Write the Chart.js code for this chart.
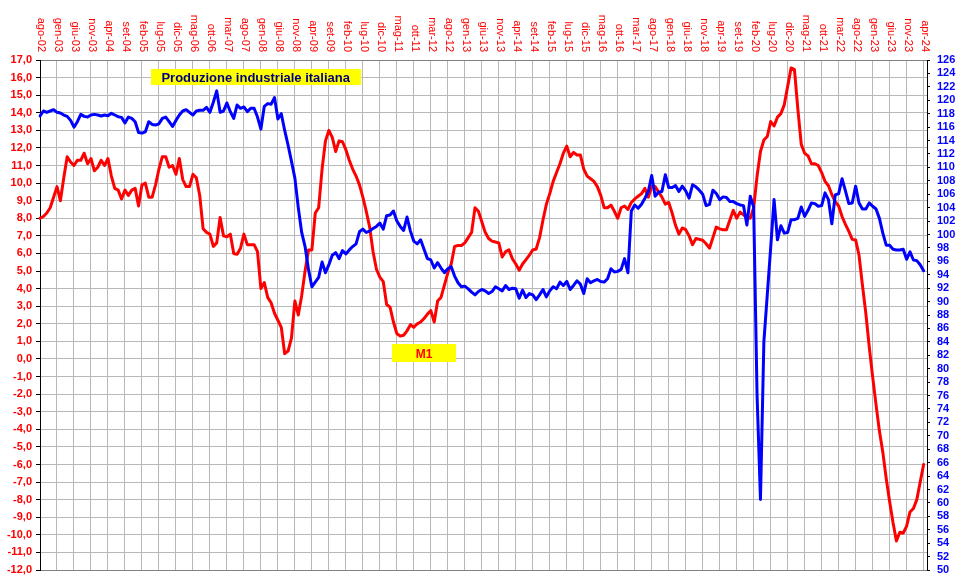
<!DOCTYPE html>
<html><head><meta charset="utf-8">
<script src="https://cdn.jsdelivr.net/npm/chart.js@4.4.0/dist/chart.umd.min.js"></script>
<style>html,body{margin:0;padding:0;background:#fff;}canvas{display:block;}</style>
</head><body>
<canvas id="c" width="966" height="588"></canvas>
<script>
// ---- categories (monthly, ago-02 .. mag-24) ----
const monthNames = ['gen','feb','mar','apr','mag','giu','lug','ago','set','ott','nov','dic'];
const firstYear = 2002, firstMonthIdx = 7, monthCount = 262;
const categories = [];
for (let k = 0; k < monthCount; k++) {
  const m = (firstMonthIdx + k) % 12;
  const y = firstYear + Math.floor((firstMonthIdx + k) / 12);
  categories.push(monthNames[m] + '-' + String(y % 100).padStart(2, '0'));
}
const labelEvery = 5;

// ---- M1 growth (%, left axis) ----
const m1Growth = [8.0,8.1,8.3,8.6,9.2,9.8,9.0,10.3,11.5,11.2,
11.0,11.3,11.3,11.7,11.1,11.4,10.7,10.9,11.3,11.0,
11.4,10.4,9.7,9.6,9.1,9.6,9.3,9.6,9.7,8.7,
9.9,10.0,9.2,9.2,9.9,10.8,11.5,11.5,10.9,11.0,
10.5,11.4,10.2,9.8,9.8,10.5,10.3,9.3,7.4,7.2,
7.1,6.4,6.6,8.05,7.0,6.95,7.1,6.0,5.95,6.3,
7.1,6.5,6.5,6.5,6.1,4.0,4.35,3.5,3.2,2.6,
2.2,1.8,0.3,0.45,1.2,3.3,2.5,3.6,5.0,6.2,
6.2,8.3,8.6,10.8,12.4,13.0,12.6,11.8,12.4,12.35,
11.9,11.3,10.8,10.4,9.9,9.2,8.4,7.5,6.1,5.1,
4.65,4.4,3.1,2.95,2.1,1.45,1.3,1.35,1.6,1.95,
1.8,2.0,2.1,2.3,2.55,2.75,2.1,3.3,3.5,4.2,
4.9,5.4,6.4,6.45,6.45,6.6,6.9,7.2,8.6,8.4,
7.8,7.2,6.85,6.7,6.65,6.6,5.8,6.1,6.2,5.7,
5.4,5.05,5.4,5.65,5.9,6.2,6.25,6.9,7.9,8.8,
9.4,10.1,10.6,11.1,11.7,12.1,11.5,11.75,11.6,11.6,
10.8,10.4,10.25,10.1,9.8,9.3,8.6,8.6,8.75,8.4,
8.0,8.6,8.7,8.5,8.9,9.1,9.25,9.4,9.7,9.2,
9.8,9.8,9.5,9.2,8.8,8.9,8.3,7.6,7.1,7.45,
7.35,7.0,6.5,6.85,6.8,6.75,6.55,6.3,6.9,7.5,
7.4,7.35,7.35,7.9,8.45,8.0,8.35,8.2,8.05,8.0,
8.6,10.4,11.8,12.45,12.65,13.5,13.25,13.75,13.95,14.45,
15.5,16.55,16.45,14.2,12.2,11.7,11.55,11.1,11.1,11.0,
10.6,10.1,9.85,9.35,8.95,8.7,8.1,7.65,7.25,6.8,
6.77,5.9,4.2,2.6,0.7,-1.0,-2.6,-4.1,-5.3,-6.8,
-8.1,-9.3,-10.35,-9.85,-9.9,-9.5,-8.7,-8.5,-8.0,-7.0,
-6.0];

// ---- Produzione industriale italiana (index, right axis) ----
const industrialProduction = [117.65,118.4,118.2,118.4,118.6,118.2,118.1,117.8,117.6,117.0,
116.0,116.8,117.9,117.6,117.5,117.8,117.9,117.8,117.65,117.8,
117.7,118.05,117.8,117.55,117.45,116.6,117.5,117.3,116.8,115.2,
115.1,115.3,116.8,116.4,116.3,116.5,117.3,117.5,116.8,116.1,
117.0,117.8,118.4,118.6,118.2,117.8,118.4,118.5,118.5,118.95,
118.2,119.7,121.4,118.2,118.4,119.6,118.3,117.3,119.3,118.8,
119.0,118.3,118.8,118.8,117.5,115.7,119.1,119.5,119.4,120.4,
117.2,118.0,115.5,113.3,110.9,108.4,104.0,100.3,98.2,94.8,
92.2,92.9,93.6,95.9,94.3,95.5,96.9,97.3,96.4,97.6,
97.1,97.7,98.2,98.6,100.4,100.8,100.3,100.5,100.9,101.2,
101.7,100.8,102.8,102.9,103.5,102.0,101.2,100.6,102.6,100.5,
99.0,98.6,99.2,97.8,96.4,96.2,95.0,95.8,95.0,94.3,
94.9,95.2,93.8,92.8,92.2,92.3,91.9,91.4,91.0,91.5,
91.8,91.6,91.2,91.5,92.2,91.9,91.6,92.4,91.8,92.0,
91.9,90.5,91.7,90.6,91.2,91.0,90.3,91.0,91.8,90.7,
91.6,92.2,91.9,92.9,92.4,93.0,91.8,92.4,93.1,92.6,
91.2,93.4,92.8,93.1,93.3,93.0,92.9,93.4,94.9,94.4,
94.5,94.8,96.4,94.3,103.5,104.4,103.9,104.5,105.4,106.4,
108.8,105.7,106.3,106.4,108.9,107.0,107.0,107.3,106.4,107.2,
106.5,105.4,107.4,107.1,106.6,106.0,104.3,104.5,106.6,106.1,
105.2,105.6,105.5,104.9,104.9,104.6,104.4,104.3,101.4,105.7,
104.1,76.0,60.5,84.0,91.0,98.0,105.2,99.2,101.3,100.2,
100.3,102.2,102.2,102.4,104.1,102.7,103.6,104.7,104.6,104.2,
104.3,106.2,105.2,101.6,105.9,106.1,108.3,106.5,104.6,104.7,
107.2,104.7,103.8,103.8,104.7,104.2,103.8,102.4,100.2,98.4,
98.4,97.8,97.7,97.7,97.8,96.3,97.4,96.2,96.1,95.5,
94.6];

// ---- axis ranges ----
const leftAxis = {min: -12, max: 17, step: 1};
const rightAxis = {min: 50, max: 126, step: 2};

const FONT = '"Liberation Sans", Arial, Helvetica, sans-serif';

// text boxes (anchored in data coordinates: category index, left-axis value)
const notes = [
  {text: 'Produzione industriale italiana', idx: 63.47, val: 16.03, w: 210, h: 16, color: '#000080', font: 'bold 13px ' + FONT},
  {text: 'M1', idx: 113.05, val: 0.32, w: 64, h: 18, color: '#ff0000', font: 'bold 12px ' + FONT}
];

const topLabelsPlugin = {
  id: 'topLabels',
  afterDraw(chart) {
    const xs = chart.scales.x, ctx = chart.ctx, top = chart.chartArea.top;
    ctx.save();
    ctx.font = '11px ' + FONT;
    ctx.fillStyle = '#ff0000';
    ctx.textAlign = 'right';
    ctx.textBaseline = 'middle';
    categories.forEach((lab, i) => {
      if (i % labelEvery !== 0) return;
      const x = xs.getPixelForValue(i);
      ctx.save();
      ctx.translate(x + 1.5, top - 8);
      ctx.rotate(Math.PI / 2);
      ctx.fillText(lab, 0, 0);
      ctx.restore();
    });
    ctx.restore();
  }
};

const notesPlugin = {
  id: 'notes',
  afterDraw(chart) {
    const xs = chart.scales.x, ys = chart.scales.y, ctx = chart.ctx;
    ctx.save();
    notes.forEach(n => {
      const cx = xs.getPixelForValue(n.idx), cy = ys.getPixelForValue(n.val);
      ctx.fillStyle = '#ffff00';
      ctx.fillRect(Math.round(cx - n.w / 2), Math.round(cy - n.h / 2), n.w, n.h);
      ctx.fillStyle = n.color;
      ctx.font = n.font;
      ctx.textAlign = 'center';
      ctx.textBaseline = 'middle';
      ctx.fillText(n.text, cx, cy + 1);
    });
    ctx.restore();
  }
};

new Chart(document.getElementById('c'), {
  type: 'line',
  data: {
    labels: categories,
    datasets: [
      {label: 'Produzione industriale italiana', data: industrialProduction, yAxisID: 'y2',
       borderColor: '#0000ff', borderWidth: 3, pointRadius: 0, tension: 0, fill: false,
       borderJoinStyle: 'round', borderCapStyle: 'round'},
      {label: 'M1', data: m1Growth, yAxisID: 'y',
       borderColor: '#ff0000', borderWidth: 3, pointRadius: 0, tension: 0, fill: false,
       borderJoinStyle: 'round', borderCapStyle: 'round'}
    ]
  },
  options: {
    responsive: false,
    animation: false,
    devicePixelRatio: 1,
    layout: {padding: {top: 60, bottom: 18, left: 0, right: 0}},
    plugins: {legend: {display: false}, tooltip: {enabled: false}, title: {display: false}},
    scales: {
      x: {
        type: 'category',
        position: 'top',
        offset: false,
        ticks: {display: false, autoSkip: false},
        grid: {
          drawTicks: false,
          color: (c) => (c.index % labelEvery === 0 ? '#b8b8b8' : 'rgba(0,0,0,0)'),
          lineWidth: 1
        },
        border: {display: true, color: '#808080', width: 1},
        afterFit: (s) => { s.height = 0; }
      },
      y: {
        position: 'left',
        min: leftAxis.min, max: leftAxis.max,
        ticks: {
          stepSize: leftAxis.step, autoSkip: false, padding: 4,
          color: '#ff0000', font: {family: FONT, size: 11, weight: 'bold'},
          callback: (v) => Number(v).toFixed(1).replace('.', ',')
        },
        grid: {
          color: (c) => (c.tick && c.tick.value === leftAxis.min ? '#808080' : '#b8b8b8'),
          tickColor: '#000000', tickLength: 4, lineWidth: 1
        },
        border: {display: true, color: '#000000', width: 1},
        afterFit: (s) => { s.width = 40; }
      },
      y2: {
        position: 'right',
        min: rightAxis.min, max: rightAxis.max,
        ticks: {
          stepSize: rightAxis.step, autoSkip: false, padding: 7,
          color: '#0000ff', font: {family: FONT, size: 11, weight: 'bold'}
        },
        grid: {drawOnChartArea: false, tickColor: '#000000', tickLength: 3},
        border: {display: true, color: '#000000', width: 1},
        afterFit: (s) => { s.width = 39; }
      }
    }
  },
  plugins: [topLabelsPlugin, notesPlugin]
});
</script>
</body></html>
